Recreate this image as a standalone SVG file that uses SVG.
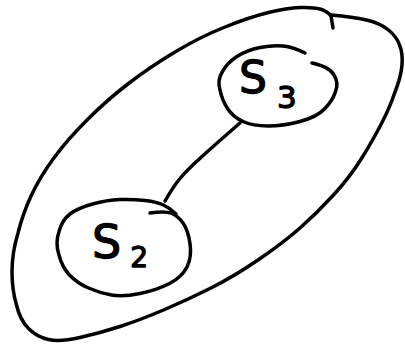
<svg xmlns="http://www.w3.org/2000/svg" width="405" height="347" viewBox="0 0 405 347">
<style>
.ink{fill:none;stroke:#000;stroke-width:3.5;stroke-linecap:round;stroke-linejoin:round}
.lbl{font-family:"DejaVu Sans",sans-serif;fill:#000;stroke:#000;stroke-width:1.3;stroke-linejoin:round}
</style>
<rect width="405" height="347" fill="#fff"/>
<g id="group">
<path class="ink" d="M333,28 L331,16 Q327,11 320,9 Q313,7 300,7.5 Q287,8 268.5,12.5 Q250,17 225,27 Q200,37 175,52 Q150,67 128.5,83.5 Q107,100 87,120 Q67,140 53.5,158.5 Q40,177 31.5,195 Q23,213 18,233 Q12,253 12,271.5 Q12,290 16.5,305 Q20,320 28.5,328.5 Q37,337 48.5,339.5 Q60,342 80,337.5 Q100,333 120,326.5 Q140,320 163.5,310 Q187,300 210,288.5 Q233,277 258,260 Q283,243 300,228 Q317,213 333.5,195 Q350,177 361.5,158.5 Q373,140 381.5,123.5 Q390,107 395,92 Q401,77 402,65 Q403,53 399.5,45 Q397,37 388.5,30 Q380,23 366.5,20 Q353,17 331,15"/>
</g>
<g id="connectors">
<path class="ink" d="M240,123 L228.5,133 Q217,143 202,156.5 Q187,170 180,178.5 Q173,187 165,201"/>
</g>
<g id="s3">
<path class="ink" d="M312,63 Q330,67 334,75 Q339,83 335.5,91.5 Q333,100 325,108.5 Q317,117 300,121.5 Q283,126 268,126 Q253,126 243,121.5 Q233,117 227.5,108.5 Q222,100 220,90 Q217,80 222.5,71.5 Q227,63 237,56.5 Q247,50 260,47.5 Q273,45 283,46 Q293,47 305,53"/>
<text class="lbl" x="239" y="93" font-size="44">S<tspan font-size="31" dx="10" dy="15">3</tspan></text>
</g>
<g id="s2">
<path class="ink" d="M150,213 Q166,211 172,213.5 Q178,216 183,223 Q188,230 190,243.5 Q192,257 187,267 Q182,277 169.5,283.5 Q157,290 140,293.5 Q123,297 111.5,295 Q100,293 88.5,288 Q77,283 69.5,275 Q62,267 59,255 Q55,243 59,231.5 Q62,220 70,214 Q78,208 92.5,204 Q107,200 120,199.5 Q133,199 145,200.5 Q157,202 163.5,205 Q170,208 176,214"/>
<text class="lbl" x="92" y="258" font-size="46">S<tspan font-size="28" dx="9" dy="9">2</tspan></text>
</g>
</svg>
